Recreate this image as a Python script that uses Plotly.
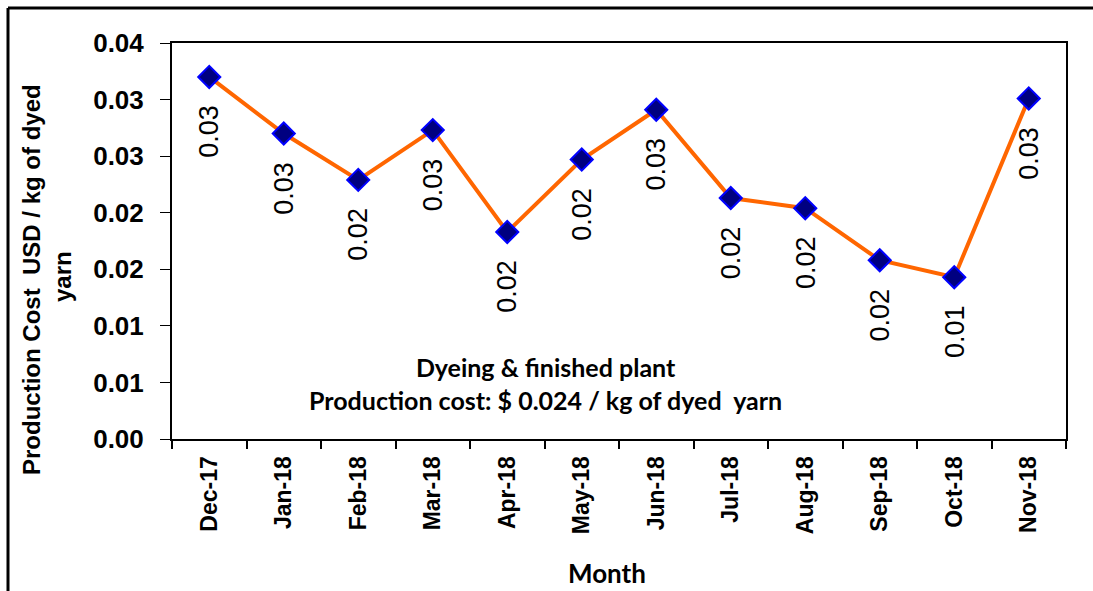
import plotly.graph_objects as go

months = ["Dec-17", "Jan-18", "Feb-18", "Mar-18", "Apr-18", "May-18",
          "Jun-18", "Jul-18", "Aug-18", "Sep-18", "Oct-18", "Nov-18"]
cost = [0.0320, 0.0270, 0.0229, 0.0273, 0.0183, 0.0247,
        0.0291, 0.0213, 0.0204, 0.0158, 0.0143, 0.0301]
y_tick_vals = [0.0, 0.005, 0.010, 0.015, 0.020, 0.025, 0.030, 0.035]
y_tick_text = ["0.00", "0.01", "0.01", "0.02", "0.02", "0.03", "0.03", "0.04"]
note_lines = ["Dyeing & finished plant",
              "Production cost: $ 0.024 / kg of dyed  yarn"]
y_title_lines = ["Production Cost  USD / kg of dyed", "yarn"]
x_title = "Month"

W, H = 1093, 591
L, R, T, B = 172, 1066, 43, 439


def px(xp):
    return (xp - L) / (R - L)


def py(yp):
    return (B - yp) / (B - T)


ARIAL = "Liberation Sans, Arial, sans-serif"
CAL = "Lato, Carlito, Calibri, sans-serif"

fig = go.Figure()
fig.add_trace(go.Scatter(
    x=months, y=cost, mode="lines+markers",
    line=dict(color="#FF6600", width=4),
    marker=dict(symbol="diamond", size=17, color="#000080",
                line=dict(color="#0000FF", width=2)),
    showlegend=False, hoverinfo="skip",
))

annotations = []
for m, v in zip(months, cost):
    annotations.append(dict(
        x=m, y=v, xref="x", yref="y", text=f"{v:.2f}", showarrow=False,
        textangle=-90, xanchor="center", yanchor="top", yshift=-26,
        font=dict(family=ARIAL, size=27, color="black"),
    ))

annotations.append(dict(x=px(545), y=py(383), xref="paper", yref="paper",
                        text="<br>".join(f"<b>{s}</b>" for s in note_lines),
                        showarrow=False, align="center",
                        xanchor="center", yanchor="middle",
                        font=dict(family=CAL, size=25, color="black")))
annotations.append(dict(x=px(31), y=py(280), xref="paper", yref="paper",
                        text=f"<b>{y_title_lines[0]}</b>", showarrow=False,
                        textangle=-90, xanchor="center", yanchor="middle",
                        font=dict(family=ARIAL, size=24, color="black")))
annotations.append(dict(x=px(62), y=py(277), xref="paper", yref="paper",
                        text=f"<b>{y_title_lines[1]}</b>", showarrow=False,
                        textangle=-90, xanchor="center", yanchor="middle",
                        font=dict(family=ARIAL, size=24, color="black")))
annotations.append(dict(x=px(607), y=py(573), xref="paper", yref="paper",
                        text=f"<b>{x_title}</b>", showarrow=False,
                        xanchor="center", yanchor="middle",
                        font=dict(family=CAL, size=26, color="black")))

shapes = [
    dict(type="line", xref="paper", yref="paper", x0=px(8), y0=py(8),
         x1=px(1100), y1=py(8), line=dict(color="black", width=3)),
    dict(type="line", xref="paper", yref="paper", x0=px(8), y0=py(8),
         x1=px(8), y1=py(600), line=dict(color="black", width=3)),
]

fig.update_layout(
    width=W, height=H,
    margin=dict(l=L, r=W - R, t=T, b=H - B),
    paper_bgcolor="white", plot_bgcolor="white",
    annotations=annotations, shapes=shapes,
    xaxis=dict(
        type="category", range=[-0.5, len(months) - 0.5],
        showline=True, linecolor="black", linewidth=2, mirror=True,
        ticks="outside", tickson="boundaries", ticklen=8, tickwidth=2,
        tickcolor="black", showgrid=False, zeroline=False,
        tickangle=-90,
        tickfont=dict(family=ARIAL, size=23, color="black"),
        ticklabelstandoff=6,
    ),
    yaxis=dict(
        range=[0, 0.035], tickmode="array", tickvals=y_tick_vals,
        ticktext=[f"<b>{t}</b>" for t in y_tick_text],
        showline=True, linecolor="black", linewidth=2, mirror=True,
        ticks="outside", ticklen=10, tickwidth=1, tickcolor="black",
        showgrid=False, zeroline=False,
        tickfont=dict(family=ARIAL, size=26, color="black"),
        ticklabelstandoff=11,
    ),
)
fig.update_xaxes(ticktext=[f"<b>{m}</b>" for m in months], tickvals=months,
                 tickmode="array")

fig.write_html("out.html")
